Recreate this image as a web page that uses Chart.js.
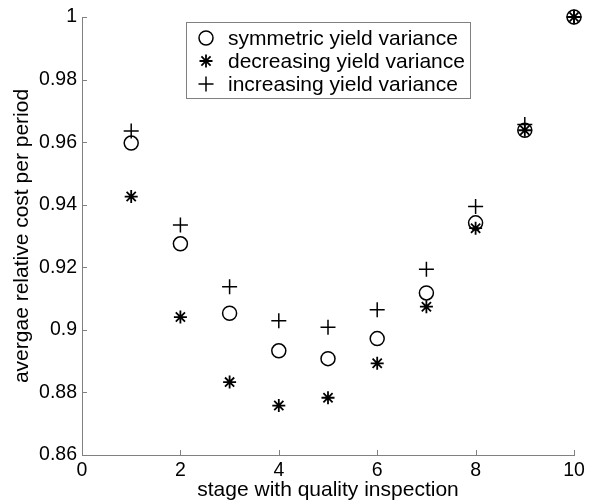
<!DOCTYPE html>
<html>
<head>
<meta charset="utf-8">
<script src="https://cdn.jsdelivr.net/npm/chart.js@4/dist/chart.umd.min.js"></script>
<style>
  html, body { margin: 0; padding: 0; background: #fff; }
  #wrap { width: 595px; height: 504px; }
</style>
</head>
<body>
<div id="wrap"><canvas id="costChart"></canvas></div>
<script>
// values
const stages = [1, 2, 3, 4, 5, 6, 7, 8, 9, 10];
const symmetricCost  = [0.9597, 0.9275, 0.9053, 0.8933, 0.8908, 0.8972, 0.9118, 0.9342, 0.9638, 1.0];
const decreasingCost = [0.9426, 0.9041, 0.8833, 0.8758, 0.8783, 0.8893, 0.9074, 0.9325, 0.9638, 1.0];
const increasingCost = [0.9636, 0.9335, 0.9138, 0.9029, 0.9008, 0.9064, 0.9194, 0.9394, 0.9656, 1.0];
const seriesNames = ['symmetric yield variance', 'decreasing yield variance', 'increasing yield variance'];
const xTicks = [0, 2, 4, 6, 8, 10];
const yTicks = [0.86, 0.88, 0.9, 0.92, 0.94, 0.96, 0.98, 1];

const FONT = 'Liberation Sans, Arial, Helvetica, sans-serif';
const axisGray = '#808080';

function toPoints(vals) {
  return stages.map((s, i) => ({ x: s, y: vals[i] }));
}

// matlab-ish inward tick marks
const inwardTicks = {
  id: 'inwardTicks',
  afterDraw(chart) {
    const { ctx, chartArea, scales } = chart;
    ctx.save();
    ctx.strokeStyle = axisGray;
    ctx.lineWidth = 1;
    ctx.beginPath();
    xTicks.forEach(v => {
      const px = Math.round(scales.x.getPixelForValue(v)) + 0.5;
      ctx.moveTo(px, chartArea.bottom);
      ctx.lineTo(px, chartArea.bottom - 5);
    });
    yTicks.forEach(v => {
      const py = Math.round(scales.y.getPixelForValue(v)) + 0.5;
      ctx.moveTo(chartArea.left, py);
      ctx.lineTo(chartArea.left + 5, py);
    });
    ctx.stroke();
    ctx.restore();
  }
};

// boxed legend inside the plot
const boxLegend = {
  id: 'boxLegend',
  afterDraw(chart) {
    const ctx = chart.ctx;
    const box = { x: 186.5, y: 22.5, w: 284, h: 76 };
    ctx.save();
    ctx.fillStyle = '#fff';
    ctx.fillRect(box.x, box.y, box.w, box.h);
    ctx.strokeStyle = axisGray;
    ctx.lineWidth = 1;
    ctx.strokeRect(box.x, box.y, box.w, box.h);
    ctx.font = '21px ' + FONT;
    ctx.textBaseline = 'middle';
    const rows = [38, 61, 84];
    chart.data.datasets.forEach((ds, i) => {
      ctx.strokeStyle = '#000';
      ctx.fillStyle = 'rgba(0,0,0,0)';
      ctx.lineWidth = ds.borderWidth;
      Chart.helpers.drawPoint(ctx, {
        pointStyle: ds.pointStyle,
        radius: ds.pointRadius,
        rotation: 0,
        borderWidth: ds.borderWidth
      }, 206, rows[i]);
      ctx.fillStyle = '#000';
      ctx.fillText(ds.label, 228, rows[i] + 1);
    });
    ctx.restore();
  }
};

new Chart(document.getElementById('costChart'), {
  type: 'scatter',
  data: {
    datasets: [
      {
        label: seriesNames[0],
        data: toPoints(symmetricCost),
        pointStyle: 'circle',
        pointRadius: 7,
        borderWidth: 1.5,
        borderColor: '#000',
        backgroundColor: 'rgba(0,0,0,0)'
      },
      {
        label: seriesNames[1],
        data: toPoints(decreasingCost),
        pointStyle: 'star',
        pointRadius: 6.5,
        borderWidth: 1.8,
        borderColor: '#000',
        backgroundColor: 'rgba(0,0,0,0)'
      },
      {
        label: seriesNames[2],
        data: toPoints(increasingCost),
        pointStyle: 'cross',
        pointRadius: 7.5,
        borderWidth: 1.5,
        borderColor: '#000',
        backgroundColor: 'rgba(0,0,0,0)'
      }
    ]
  },
  options: {
    responsive: true,
    maintainAspectRatio: false,
    animation: false,
    clip: false,
    layout: { padding: { top: 17, right: 21, left: 0, bottom: 0 } },
    plugins: {
      legend: { display: false },
      tooltip: { enabled: false }
    },
    scales: {
      x: {
        type: 'linear',
        min: 0,
        max: 10,
        afterBuildTicks: (scale) => { scale.ticks = xTicks.map(v => ({ value: v })); },
        afterFit: (scale) => { scale.height = 49; },
        border: { display: true, color: axisGray, width: 1 },
        grid: { display: true, drawOnChartArea: false, drawTicks: false },
        ticks: {
          color: '#000',
          padding: 4,
          maxRotation: 0,
          font: { family: FONT, size: 19.5 }
        },
        title: {
          display: true,
          text: 'stage with quality inspection',
          color: '#000',
          padding: { top: 0, bottom: 1 },
          font: { family: FONT, size: 21 }
        }
      },
      y: {
        type: 'linear',
        min: 0.86,
        max: 1,
        afterBuildTicks: (scale) => { scale.ticks = yTicks.map(v => ({ value: v })); },
        afterFit: (scale) => { scale.width = 82; },
        border: { display: true, color: axisGray, width: 1 },
        grid: { display: true, drawOnChartArea: false, drawTicks: false },
        ticks: {
          color: '#000',
          padding: 5,
          font: { family: FONT, size: 19.5 },
          callback: (v) => String(Math.round(v * 100) / 100)
        },
        title: {
          display: true,
          text: 'avergae relative cost per period',
          color: '#000',
          padding: { top: 10, bottom: 0 },
          font: { family: FONT, size: 21 }
        }
      }
    }
  },
  plugins: [inwardTicks, boxLegend]
});
</script>
</body>
</html>
